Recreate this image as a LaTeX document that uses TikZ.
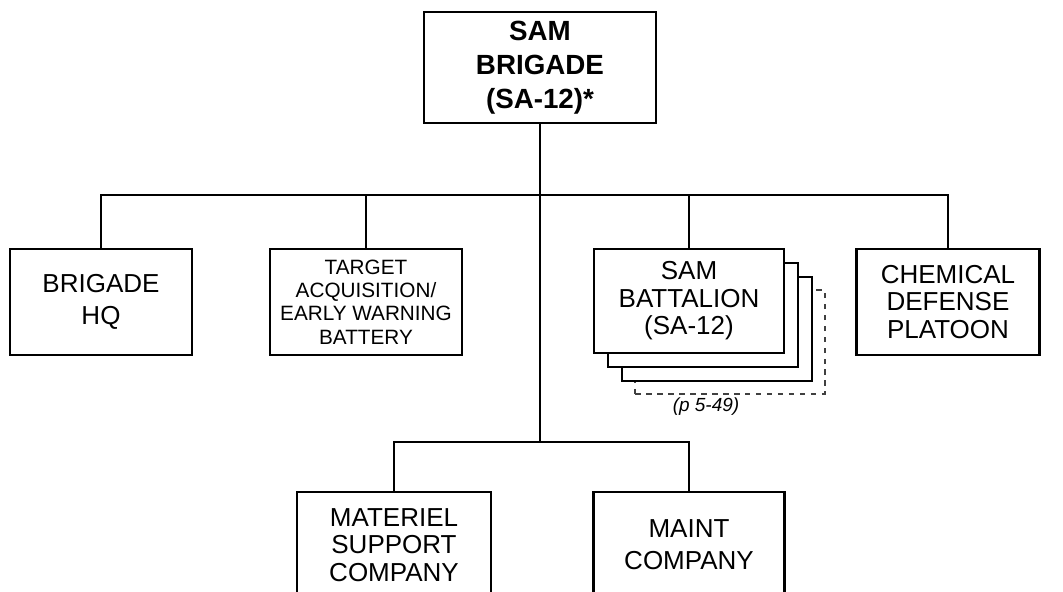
\documentclass[tikz,border=0pt]{standalone}
\usepackage{fontspec}
\setmainfont{Liberation Sans}

\begin{document}
\begin{tikzpicture}[x=0.02cm, y=-0.02cm,
    unit/.style={draw, line width=1.6pt, fill=white, align=center, inner sep=0pt,
      minimum height=2.12cm, font=\fontsize{14.8}{15.6}\selectfont},
    wide/.style={font=\fontsize{14.8}{18.2}\selectfont},
    link/.style={line width=1.4pt}]
    \useasboundingbox (0,0) rectangle (1063,592);
    \clip (0,0) rectangle (1063,592);
    % top of the chart
    \node[unit, minimum width=4.64cm, minimum height=2.22cm,
      font=\fontsize{15.8}{19.3}\selectfont\bfseries] (brig) at (540,67.5)
      {SAM\\BRIGADE\\(SA-12)*};
    % second row
    \node[unit, wide, minimum width=3.64cm] (hq) at (101,302) {BRIGADE\\HQ};
    \node[unit, minimum width=3.84cm, font=\fontsize{11.8}{13.2}\selectfont] (target) at (366,302)
      {TARGET\\ACQUISITION/\\EARLY WARNING\\BATTERY};
    \node[draw, dashed, dash pattern=on 0.11cm off 0.11cm, line width=0.7pt, black!75,
      minimum width=3.8cm, minimum height=2.08cm] (batt d) at (730,342) {};
    \node[unit, minimum width=3.8cm, minimum height=2.08cm] (batt c) at (717,329) {};
    \node[unit, minimum width=3.8cm, minimum height=2.08cm] (batt b) at (703,315) {};
    \node[unit, minimum width=3.8cm, minimum height=2.08cm] (batt) at (689,301)
      {SAM\\BATTALION\\(SA-12)};
    \node[font=\fontsize{10.8}{12}\selectfont\itshape] (ref) at (706,407) {(p 5-49)};
    \node[unit, minimum width=3.66cm] (chem) at (948,302) {CHEMICAL\\DEFENSE\\PLATOON};
    % bottom row
    \node[unit, minimum width=3.88cm] (materiel) at (394,545) {MATERIEL\\SUPPORT\\COMPANY};
    \node[unit, wide, minimum width=3.82cm] (maint) at (689,545) {MAINT\\COMPANY};
    % connectors
    \coordinate (bar) at (540,195);
    \coordinate (sub) at (540,442);
    \draw[link] (hq.north) |- (bar) -| (chem.north);
    \draw[link] (target.north) -- (target.north |- bar);
    \draw[link] (batt.north) -- (batt.north |- bar);
    \draw[link] (brig.south) -- (sub);
    \draw[link] (materiel.north) |- (sub) -| (maint.north);
\end{tikzpicture}
\end{document}
